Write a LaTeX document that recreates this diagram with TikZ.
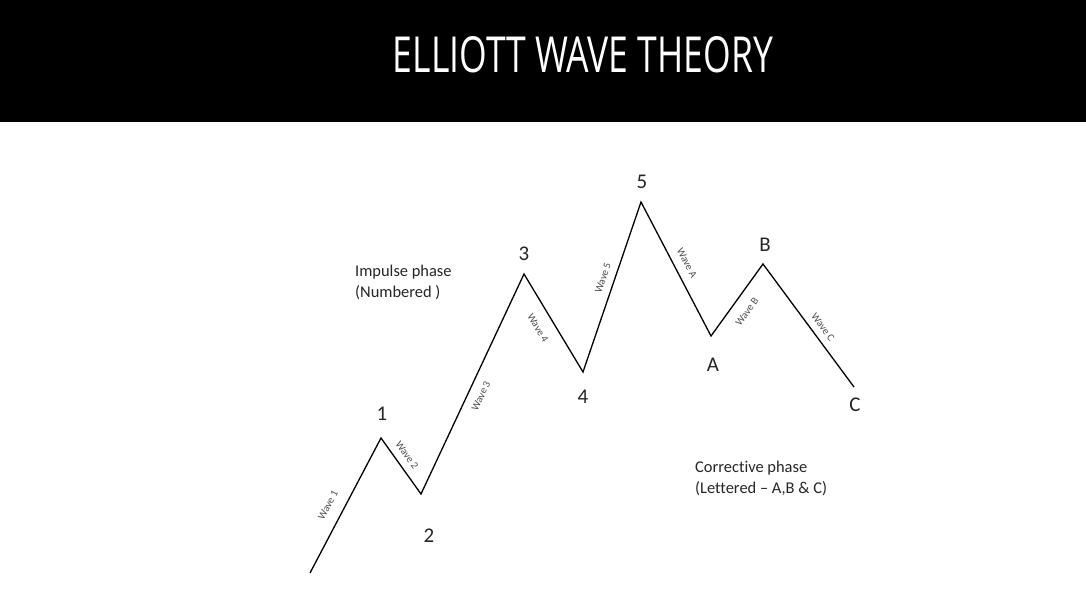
\documentclass[tikz,border=0pt]{standalone}
\usepackage{fontspec}
\setmainfont{Carlito}[Ligatures=NoCommon]
\newfontfamily\titlefont{Open Sans}
\begin{document}
\begin{tikzpicture}[x=1bp,y=-1bp,
  wave/.style={line width=1.3bp, black, line join=miter},
  ptlabel/.style={font=\fontsize{21}{24}\selectfont, text=black!85, inner sep=0pt},
  wlabel/.style={font=\fontsize{10.5}{12}\selectfont, text=black!70, inner sep=0pt},
  phase/.style={font=\fontsize{16.5}{21}\selectfont, text=black!85, align=left, anchor=west, inner sep=0pt}]
\useasboundingbox (0,0) rectangle (1086,612);
\fill[white] (0,0) rectangle (1086,612);
\fill[black] (0,0) rectangle (1086,122);
\node[text=white, inner sep=0pt] (title) at (583,55) {\resizebox{380bp}{36bp}{\titlefont ELLIOTT WAVE THEORY}};

\coordinate (p0) at (310,573);
\coordinate (p1) at (381,438);
\coordinate (p2) at (421,494);
\coordinate (p3) at (524,274);
\coordinate (p4) at (583,372);
\coordinate (p5) at (641,202);
\coordinate (pA) at (711,336);
\coordinate (pB) at (763,264);
\coordinate (pC) at (854,387);
\draw[wave] (p0) -- (p1) -- (p2) -- (p3) -- (p4) -- (p5) -- (pA) -- (pB) -- (pC);

\node[ptlabel] (l1) at (382,414) {1};
\node[ptlabel] (l2) at (429,536) {2};
\node[ptlabel] (l3) at (524,254) {3};
\node[ptlabel] (l4) at (583,397) {4};
\node[ptlabel] (l5) at (642,182) {5};
\node[ptlabel] (lA) at (713,365) {A};
\node[ptlabel] (lB) at (765,245) {B};
\node[ptlabel] (lC) at (855,405) {C};

\node[wlabel, rotate=62.3] (w1) at (328,505) {Wave 1};
\node[wlabel, rotate=-54.5] (w2) at (407,455) {Wave 2};
\node[wlabel, rotate=64.9] (w3) at (481,396) {Wave 3};
\node[wlabel, rotate=-59] (w4) at (538,328) {Wave 4};
\node[wlabel, rotate=71.2] (w5) at (603,278) {Wave 5};
\node[wlabel, rotate=-62.4] (wA) at (687,263) {Wave A};
\node[wlabel, rotate=54.2] (wB) at (747,312) {Wave B};
\node[wlabel, rotate=-53.5] (wC) at (823,327) {Wave C};

\node[phase] (imp) at (355,282) {Impulse phase\\(Numbered )};
\node[phase] (cor) at (695,478) {Corrective phase\\(Lettered -- A,B \& C)};
\end{tikzpicture}
\end{document}
